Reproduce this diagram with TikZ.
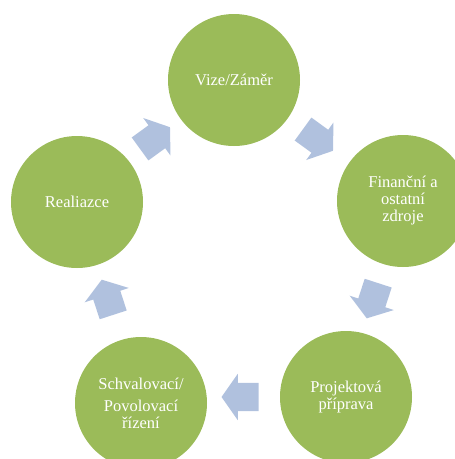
\documentclass[tikz,border=0pt]{standalone}
\usepackage{fontspec}
\setmainfont{Liberation Serif}
\usetikzlibrary{shapes.arrows}
\definecolor{stepgreen}{RGB}{155,187,89}
\definecolor{arrowblue}{RGB}{176,193,222}
\tikzset{
  stage/.style={circle, fill=stepgreen, draw=none, minimum size=132pt, inner sep=0pt,
    text=white, align=center, font=\fontsize{16.5}{17}\selectfont},
  blockarrow/.style={single arrow, fill=arrowblue, draw=none, minimum height=37pt,
    inner xsep=0pt, inner ysep=14pt, single arrow head extend=9pt,
    single arrow tip angle=110, text width=0pt}
}
\begin{document}
\begin{tikzpicture}[x=1pt,y=1pt]
\useasboundingbox (0,0) rectangle (455,-459);
\clip (0,0) rectangle (455,-459);
\node[stage] (vize) at (234,-80) {Vize/Záměr};
\node[stage] (fin) at (403,-201) {Finanční a\\ostatní\\zdroje};
\node[stage] (proj) at (346,-397) {Projektová\\příprava};
\node[stage] (schv) at (141,-403) {Schvalovací/\\[5pt]Povolovací\\řízení};
\node[stage] (real) at (77,-202) {Realiazce};
\node[blockarrow, rotate=36] (a1) at (151,-141) {};
\node[blockarrow, rotate=-36] (a2) at (314,-137) {};
\node[blockarrow, rotate=-108] (a3) at (374,-296) {};
\node[blockarrow, rotate=180] (a4) at (245,-397) {};
\node[blockarrow, rotate=108] (a5) at (109,-302) {};
\end{tikzpicture}
\end{document}
